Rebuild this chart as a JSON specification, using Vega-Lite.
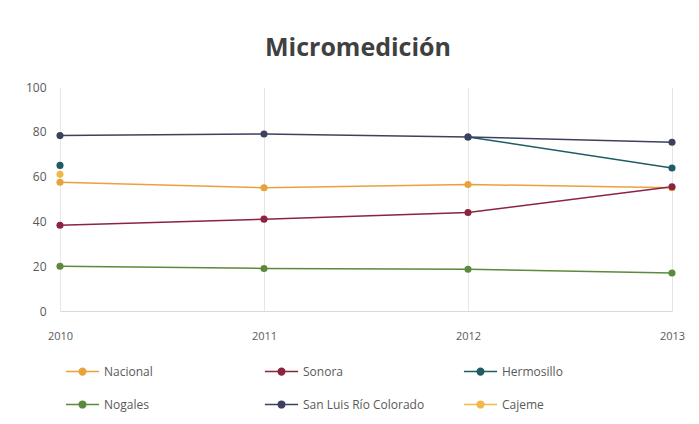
{
  "$schema": "https://vega.github.io/schema/vega-lite/v6.json",
  "width": 612,
  "height": 224,
  "autosize": {"type": "none"},
  "padding": {"left": 60, "top": 87, "right": 27, "bottom": 113},
  "background": "white",
  "title": {
    "text": "Micromedición",
    "fontSize": 25,
    "font": "Open Sans",
    "fontWeight": "bold",
    "color": "#404040",
    "anchor": "middle",
    "offset": 20,
    "dx": -8
  },
  "config": {
    "font": "Open Sans",
    "view": {"stroke": null}
  },
  "data": {
    "values": [
      {"serie": "Nacional", "anio": "2010", "valor": 57.5},
      {"serie": "Nacional", "anio": "2011", "valor": 55},
      {"serie": "Nacional", "anio": "2012", "valor": 56.5},
      {"serie": "Nacional", "anio": "2013", "valor": 55},
      {"serie": "Sonora", "anio": "2010", "valor": 38.3},
      {"serie": "Sonora", "anio": "2011", "valor": 41},
      {"serie": "Sonora", "anio": "2012", "valor": 44},
      {"serie": "Sonora", "anio": "2013", "valor": 55.5},
      {"serie": "Hermosillo", "anio": "2010", "valor": 65},
      {"serie": "Hermosillo", "anio": "2011", "valor": null},
      {"serie": "Hermosillo", "anio": "2012", "valor": 77.7},
      {"serie": "Hermosillo", "anio": "2013", "valor": 63.8},
      {"serie": "Nogales", "anio": "2010", "valor": 20},
      {"serie": "Nogales", "anio": "2011", "valor": 19},
      {"serie": "Nogales", "anio": "2012", "valor": 18.6},
      {"serie": "Nogales", "anio": "2013", "valor": 17},
      {"serie": "San Luis Río Colorado", "anio": "2010", "valor": 78.3},
      {"serie": "San Luis Río Colorado", "anio": "2011", "valor": 79},
      {"serie": "San Luis Río Colorado", "anio": "2012", "valor": 77.7},
      {"serie": "San Luis Río Colorado", "anio": "2013", "valor": 75.3},
      {"serie": "Cajeme", "anio": "2010", "valor": 61}
    ]
  },
  "mark": {"type": "line", "strokeWidth": 1.5, "point": {"filled": true, "size": 50}},
  "encoding": {
    "x": {
      "field": "anio",
      "type": "ordinal",
      "scale": {"type": "point", "padding": 0},
      "axis": {
        "title": null,
        "labelAngle": 0,
        "ticks": false,
        "grid": true,
        "gridColor": "#e6e6e6",
        "domainColor": "#d9d9d9",
        "labelColor": "#595959",
        "labelFontSize": 11,
        "labelPadding": 19
      }
    },
    "y": {
      "field": "valor",
      "type": "quantitative",
      "scale": {"domain": [0, 100]},
      "axis": {
        "title": null,
        "values": [0, 20, 40, 60, 80, 100],
        "grid": false,
        "domain": false,
        "ticks": false,
        "labelColor": "#595959",
        "labelFontSize": 12,
        "labelPadding": 14
      }
    },
    "color": {
      "field": "serie",
      "type": "nominal",
      "sort": ["Nacional", "Sonora", "Hermosillo", "Nogales", "San Luis Río Colorado", "Cajeme"],
      "scale": {
        "domain": ["Nacional", "Sonora", "Hermosillo", "Nogales", "San Luis Río Colorado", "Cajeme"],
        "range": ["#E9A23B", "#8C2340", "#1F5C66", "#5B8A3C", "#3D4160", "#F2B84B"]
      },
      "legend": {
        "title": null,
        "orient": "none",
        "direction": "horizontal",
        "legendX": 5,
        "legendY": 267,
        "columns": 3,
        "gridAlign": "all",
        "columnPadding": 35,
        "rowPadding": 9,
        "symbolType": "M-1,0H1M0.2,0A0.2,0.2,0,1,1,-0.2,0A0.2,0.2,0,1,1,0.2,0",
        "symbolSize": 1100,
        "symbolStrokeWidth": 1.5,
        "labelFontSize": 12,
        "labelColor": "#595959",
        "labelOffset": 4
      }
    },
    "order": {"field": "anio"}
  }
}
